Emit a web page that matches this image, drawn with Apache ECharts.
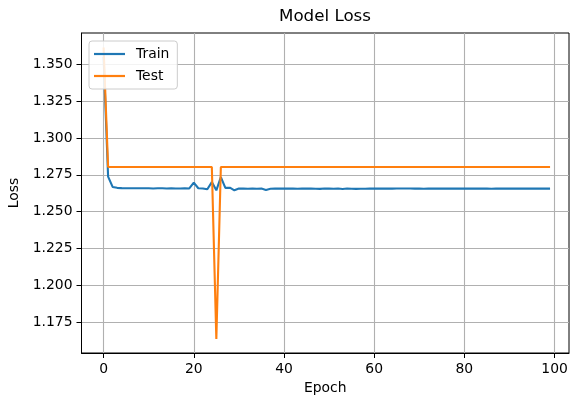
<!DOCTYPE html>
<html>
<head>
<meta charset="utf-8">
<script src="https://cdn.jsdelivr.net/npm/echarts@6/dist/echarts.min.js"></script>
<style>
  html, body { margin: 0; padding: 0; background: #fff; }
  #chart { width: 571px; height: 397px; }
</style>
</head>
<body>
<div id="chart"></div>
<script>
// loss per epoch
const train = [
  1.3550, 1.2738, 1.2668, 1.2662, 1.2660, 1.2659, 1.2659, 1.2659, 1.2659, 1.2659,
  1.2659, 1.2658, 1.2659, 1.2659, 1.2658, 1.2659, 1.2658, 1.2658, 1.2659, 1.2658,
  1.2697, 1.2659, 1.2658, 1.2652, 1.2701, 1.2645, 1.2735, 1.2662, 1.2663, 1.2645,
  1.2657, 1.2657, 1.2656, 1.2657, 1.2656, 1.2657, 1.2648, 1.2656, 1.2657, 1.2657,
  1.2657, 1.2657, 1.2657, 1.2656, 1.2657, 1.2657, 1.2657, 1.2656, 1.2655, 1.2657,
  1.2657, 1.2656, 1.2657, 1.2654, 1.2657, 1.2656, 1.2655, 1.2656, 1.2656, 1.2657,
  1.2657, 1.2657, 1.2657, 1.2657, 1.2657, 1.2658, 1.2658, 1.2658, 1.2658, 1.2657,
  1.2657, 1.2656, 1.2657, 1.2657, 1.2657, 1.2657, 1.2658, 1.2657, 1.2658, 1.2657,
  1.2657, 1.2657, 1.2657, 1.2657, 1.2657, 1.2657, 1.2656, 1.2657, 1.2657, 1.2657,
  1.2657, 1.2657, 1.2657, 1.2657, 1.2657, 1.2657, 1.2657, 1.2657, 1.2657, 1.2657
];
const test = [
  1.3614, 1.2803, 1.2803, 1.2803, 1.2803, 1.2803, 1.2803, 1.2803, 1.2803, 1.2803,
  1.2803, 1.2803, 1.2803, 1.2803, 1.2803, 1.2803, 1.2803, 1.2803, 1.2803, 1.2803,
  1.2803, 1.2803, 1.2803, 1.2803, 1.2803, 1.1637, 1.2803, 1.2803, 1.2803, 1.2803,
  1.2803, 1.2803, 1.2803, 1.2803, 1.2803, 1.2803, 1.2803, 1.2803, 1.2803, 1.2803,
  1.2803, 1.2803, 1.2803, 1.2803, 1.2803, 1.2803, 1.2803, 1.2803, 1.2803, 1.2803,
  1.2803, 1.2803, 1.2803, 1.2803, 1.2803, 1.2803, 1.2803, 1.2803, 1.2803, 1.2803,
  1.2803, 1.2803, 1.2803, 1.2803, 1.2803, 1.2803, 1.2803, 1.2803, 1.2803, 1.2803,
  1.2803, 1.2803, 1.2803, 1.2803, 1.2803, 1.2803, 1.2803, 1.2803, 1.2803, 1.2803,
  1.2803, 1.2803, 1.2803, 1.2803, 1.2803, 1.2803, 1.2803, 1.2803, 1.2803, 1.2803,
  1.2803, 1.2803, 1.2803, 1.2803, 1.2803, 1.2803, 1.2803, 1.2803, 1.2803, 1.2803
];
const xTicks = [0, 20, 40, 60, 80, 100];
const yTicks = [1.175, 1.2, 1.225, 1.25, 1.275, 1.3, 1.325, 1.35];

const font = "DejaVu Sans";
const toPairs = (arr) => arr.map((v, i) => [i, v]);

const chart = echarts.init(document.getElementById("chart"), null, { renderer: "canvas" });
chart.setOption({
  backgroundColor: "#fff",
  animation: false,
  title: {
    text: "Model Loss",
    left: 279,
    top: 8,
    padding: 0,
    textStyle: { fontFamily: font, fontSize: 16.7, fontWeight: "normal", color: "#000" },
  },
  legend: {
    left: 89,
    top: 41,
    orient: "vertical",
    padding: [6, 8, 6, 5],
    itemGap: 8,
    itemWidth: 31,
    itemHeight: 2.2,
    icon: "rect",
    borderColor: "#cccccc",
    borderWidth: 1,
    borderRadius: 3,
    backgroundColor: "rgba(255,255,255,0.85)",
    textStyle: { fontFamily: font, fontSize: 13.9, color: "#000", padding: [0, 0, 0, 6] },
    data: ["Train", "Test"],
  },
  grid: {
    left: 81.5,
    right: 2,
    top: 33,
    bottom: 44,
    show: true,
    borderColor: "#000",
    borderWidth: 1,
    outerBoundsMode: "none",
    containLabel: false,
  },
  xAxis: {
    type: "value",
    min: -4.9,
    max: 103.2,
    name: "Epoch",
    nameLocation: "middle",
    nameGap: 27,
    nameTextStyle: { fontFamily: font, fontSize: 13.9, color: "#000" },
    axisLine: { show: true, onZero: false, lineStyle: { color: "#000", width: 1 } },
    axisTick: { show: true, length: 5, customValues: xTicks, lineStyle: { color: "#000", width: 1 } },
    axisLabel: { customValues: xTicks, margin: 9, fontFamily: font, fontSize: 13.9, color: "#000" },
    splitLine: { show: true, lineStyle: { color: "#b0b0b0", width: 1.1 } },
  },
  yAxis: {
    type: "value",
    min: 1.1542,
    max: 1.3712,
    name: "Loss",
    nameLocation: "middle",
    nameGap: 58,
    nameTextStyle: { fontFamily: font, fontSize: 13.9, color: "#000" },
    axisLine: { show: true, onZero: false, lineStyle: { color: "#000", width: 1 } },
    axisTick: { show: true, length: 5, customValues: yTicks, lineStyle: { color: "#000", width: 1 } },
    axisLabel: {
      customValues: yTicks,
      margin: 9,
      fontFamily: font,
      fontSize: 13.9,
      color: "#000",
      formatter: (v) => v.toFixed(3),
    },
    splitLine: { show: true, lineStyle: { color: "#b0b0b0", width: 1.1 } },
  },
  series: [
    {
      name: "Train",
      type: "line",
      data: toPairs(train),
      symbol: "none",
      color: "#1f77b4",
      lineStyle: { width: 2.1, color: "#1f77b4" },
      z: 2,
    },
    {
      name: "Test",
      type: "line",
      data: toPairs(test),
      symbol: "none",
      color: "#ff7f0e",
      lineStyle: { width: 2.1, color: "#ff7f0e" },
      z: 3,
    },
  ],
});
</script>
</body>
</html>
